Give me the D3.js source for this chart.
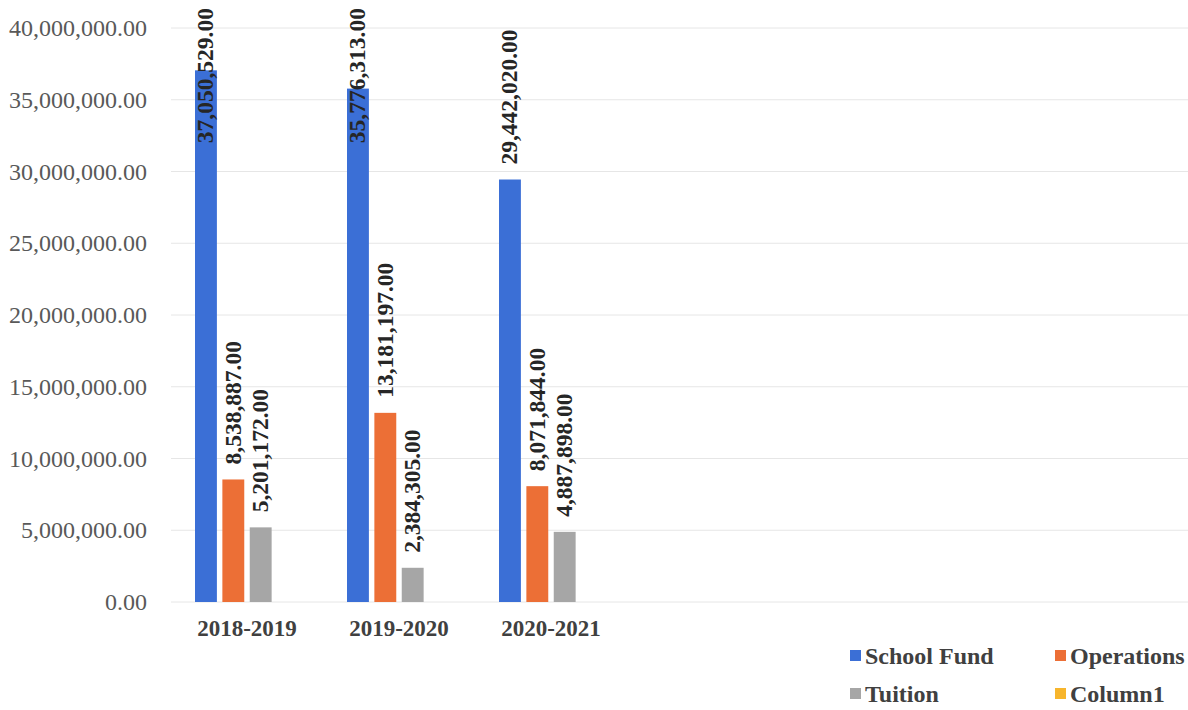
<!DOCTYPE html>
<html>
<head>
<meta charset="utf-8">
<script src="https://cdn.jsdelivr.net/npm/d3@7"></script>
<style>
  body { margin: 0; background: #fff; }
  text { font-family: "Liberation Serif", "Times New Roman", serif; }
</style>
</head>
<body>
<div id="grafico"></div>
<script>
const years = ['2018-2019', '2019-2020', '2020-2021'];
const seriesNames = ['School Fund', 'Operations', 'Tuition', 'Column1'];
const schoolFund = [37050529, 35776313, 29442020];
const operations = [8538887, 13181197, 8071844];
const tuition = [5201172, 2384305, 4887898];
const column1 = [0, 0, 0];
const yTicks = [0, 5000000, 10000000, 15000000, 20000000, 25000000, 30000000, 35000000, 40000000];
const colors = ['#3b6fd6', '#ec6f36', '#a6a6a6', '#f7b52c'];

const width = 1188;
const height = 710;
const plot = { left: 171, right: 1188, top: 28, bottom: 602 };

const svg = d3.select('#grafico')
              .append('svg')
              .attr('width', width)
              .attr('height', height);

const yScale = d3.scaleLinear()
                 .domain([0, 40000000])
                 .range([plot.bottom, plot.top]);

const xScale = d3.scaleBand()
                 .domain(years)
                 .range([plot.left, plot.left + 152 * years.length]);

const xInner = d3.scaleBand()
                 .domain(seriesNames)
                 .range([24, 128])
                 .paddingInner(0.2);

const fmt = d3.format(',.2f');

// gridlines
svg.append('g')
   .selectAll('line')
   .data(yTicks)
   .enter()
   .append('line')
   .attr('x1', plot.left)
   .attr('x2', plot.right)
   .attr('y1', d => yScale(d))
   .attr('y2', d => yScale(d))
   .attr('stroke', '#e6e6e6')
   .attr('stroke-width', 1);

// y axis labels
const yAxis = d3.axisLeft(yScale)
                .tickValues(yTicks)
                .tickFormat(fmt)
                .tickSize(0)
                .tickPadding(24);

const yG = svg.append('g')
              .attr('transform', `translate(${plot.left}, 0)`)
              .call(yAxis);
yG.select('.domain').remove();
yG.selectAll('text')
  .attr('font-family', '"Liberation Serif", serif')
  .attr('font-size', '24px')
  .attr('fill', '#595959');

// x axis labels
const xAxis = d3.axisBottom(xScale).tickSize(0).tickPadding(18);
const xG = svg.append('g')
              .attr('transform', `translate(0, ${plot.bottom})`)
              .call(xAxis);
xG.select('.domain').remove();
xG.selectAll('text')
  .attr('font-family', '"Liberation Serif", serif')
  .attr('font-size', '23px')
  .attr('font-weight', 'bold')
  .attr('fill', '#404040');

const rows = [];
years.forEach((yr, i) => {
    [schoolFund, operations, tuition, column1].forEach((arr, s) => {
        rows.push({ year: yr, series: seriesNames[s], value: arr[i], color: colors[s] });
    });
});

svg.append('g')
   .selectAll('rect')
   .data(rows)
   .enter()
   .append('rect')
   .attr('x', d => xScale(d.year) + xInner(d.series))
   .attr('y', d => yScale(d.value))
   .attr('width', xInner.bandwidth())
   .attr('height', d => yScale(0) - yScale(d.value))
   .attr('fill', d => d.color);

// data labels, rotated, kept inside the chart top
const labels = svg.append('g')
   .selectAll('text')
   .data(rows.filter(d => d.value > 0))
   .enter()
   .append('text')
   .attr('font-size', '23.5px')
   .attr('font-weight', 'bold')
   .attr('fill', '#262626')
   .text(d => fmt(d.value));

labels.each(function(d) {
    const len = this.getComputedTextLength();
    const cx = xScale(d.year) + xInner(d.series) + xInner.bandwidth() / 2;
    const yStart = Math.max(yScale(d.value) - 15, 8 + len);
    d3.select(this)
      .attr('transform', `translate(${cx + 7.5}, ${yStart}) rotate(-90)`);
});

// legend
const legendPos = [[850, 664], [1055, 664], [850, 702], [1055, 702]];
const legend = svg.append('g')
   .selectAll('g')
   .data(seriesNames)
   .enter()
   .append('g')
   .attr('transform', (d, i) => `translate(${legendPos[i][0]}, ${legendPos[i][1]})`);

legend.append('rect')
      .attr('x', 0)
      .attr('y', -14)
      .attr('width', 11)
      .attr('height', 11)
      .attr('fill', (d, i) => colors[i]);

legend.append('text')
      .attr('x', 15)
      .attr('font-size', '24px')
      .attr('font-weight', 'bold')
      .attr('fill', '#404040')
      .text(d => d);
</script>
</body>
</html>
